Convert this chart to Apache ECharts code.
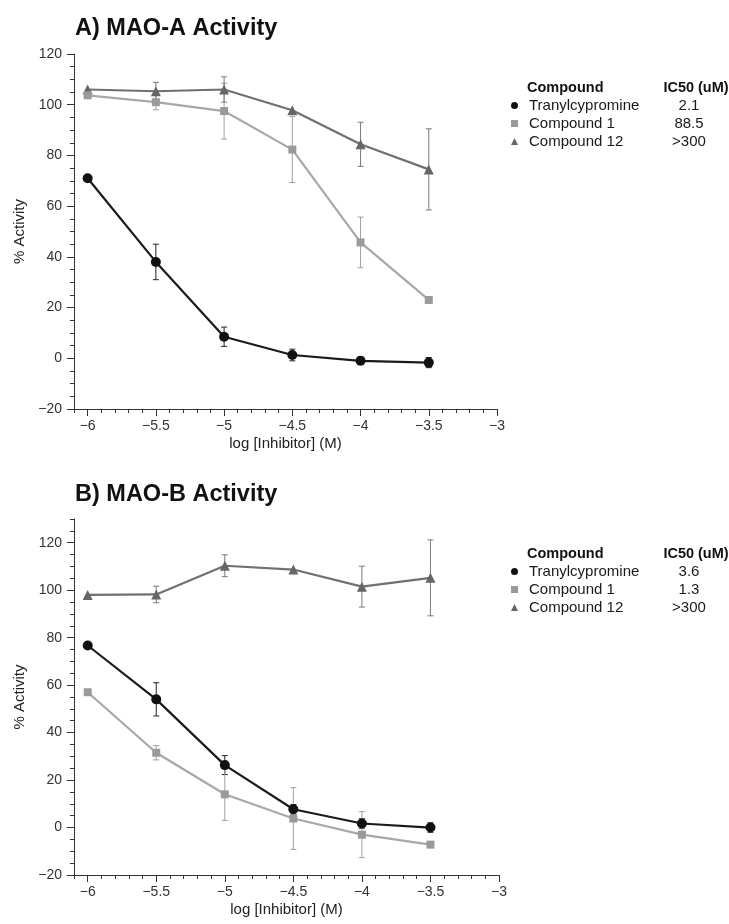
<!DOCTYPE html>
<html>
<head>
<meta charset="utf-8">
<script src="https://cdn.jsdelivr.net/npm/echarts@6/dist/echarts.min.js"></script>
<style>
  html, body { margin: 0; padding: 0; background: #fff; }
  #chart { width: 729px; height: 924px; }
</style>
</head>
<body>
<div id="chart"></div>
<script>
// ---------- data ----------
const logConc = [-6, -5.5, -5, -4.5, -4, -3.5];
const seriesNames = ['Tranylcypromine', 'Compound 1', 'Compound 12'];
const xTickLabels = [-6, -5.5, -5, -4.5, -4, -3.5, -3];
const yTickLabels = [-20, 0, 20, 40, 60, 80, 100, 120];

const maoA_tranyl     = [71, 38, 8.5, 1.3, -1, -1.7];
const maoA_tranyl_err = [0, 7, 3.8, 2.3, 1.5, 2];
const maoA_c1         = [103.7, 101, 97.5, 82.3, 45.7, 23];
const maoA_c1_err     = [0, 3, 11, 13, 10, 0];
const maoA_c12        = [106, 105.3, 106, 97.8, 84.4, 74.5];
const maoA_c12_err    = [0, 3.5, 5, 0, 8.7, 16];

const maoB_tranyl     = [76.7, 54, 26.3, 7.7, 1.7, 0];
const maoB_tranyl_err = [0, 7, 4, 2, 2, 2];
const maoB_c1         = [57, 31.5, 14, 3.8, -3, -7.2];
const maoB_c1_err     = [0, 3, 11, 13, 9.7, 0];
const maoB_c12        = [98, 98.2, 110.3, 108.7, 101.5, 105.2];
const maoB_c12_err    = [0, 3.5, 4.6, 0, 8.6, 16];

const ic50A = ['2.1', '88.5', '>300'];
const ic50B = ['3.6', '1.3', '>300'];

// ---------- styles ----------
const FONT = 'Liberation Sans, Arial, sans-serif';
const AXIS_COLOR = '#333';
const markerColors = ['#111111', '#9a9a9a', '#666666'];
const lineColors = ['#1a1a1a', '#a8a8a8', '#707070'];
const errColors = ['#222222', '#a0a0a0', '#7a7a7a'];
const symbols = ['circle', 'rect', 'triangle'];
const symbolSizes = [10, 8, 10];

const minus = v => String(v).replace('-', '\u2212');

function mainX(grid) {
  return {
    type: 'value', gridIndex: grid, min: -6.1, max: -3, position: 'bottom',
    axisLine: { show: true, onZero: false, lineStyle: { color: AXIS_COLOR, width: 1 } },
    axisTick: { show: true, length: 7, lineStyle: { color: AXIS_COLOR }, customValues: xTickLabels },
    axisLabel: { show: true, customValues: xTickLabels, formatter: minus, color: '#333', fontSize: 14, margin: 10, fontFamily: FONT },
    splitLine: { show: false },
    name: 'log [Inhibitor] (M)', nameLocation: 'middle', nameGap: 27,
    nameTextStyle: { color: '#222', fontSize: 15, fontFamily: FONT }
  };
}
function minorX(grid) {
  return {
    type: 'value', gridIndex: grid, min: -6.1, max: -3, interval: 0.1, position: 'bottom',
    axisLine: { show: false, onZero: false },
    axisTick: { show: true, length: 4, lineStyle: { color: AXIS_COLOR } },
    axisLabel: { show: false }, splitLine: { show: false }
  };
}
function mainY(grid, max) {
  return {
    type: 'value', gridIndex: grid, min: -20, max: max, position: 'left',
    axisLine: { show: true, onZero: false, lineStyle: { color: AXIS_COLOR, width: 1 } },
    axisTick: { show: true, length: 7, lineStyle: { color: AXIS_COLOR }, customValues: yTickLabels },
    axisLabel: { show: true, customValues: yTickLabels, formatter: minus, color: '#333', fontSize: 14, margin: 12, fontFamily: FONT },
    splitLine: { show: false },
    name: '% Activity', nameLocation: 'middle', nameGap: 45, nameRotate: 90,
    nameTextStyle: { color: '#222', fontSize: 15, fontFamily: FONT }
  };
}
function minorY(grid, max) {
  return {
    type: 'value', gridIndex: grid, min: -20, max: max, interval: 5, position: 'left',
    axisLine: { show: false, onZero: false },
    axisTick: { show: true, length: 4, lineStyle: { color: AXIS_COLOR } },
    axisLabel: { show: false }, splitLine: { show: false }
  };
}

function errSeries(idx, axisIdx, vals, errs) {
  const color = errColors[idx];
  return {
    type: 'custom', name: 'err-' + seriesNames[idx] + '-' + axisIdx,
    xAxisIndex: axisIdx, yAxisIndex: axisIdx, z: 1, silent: true,
    data: logConc.map((x, i) => [x, vals[i], errs[i]]),
    renderItem: (params, api) => {
      const x = api.value(0), y = api.value(1), e = api.value(2);
      if (!e) return null;
      const t = api.coord([x, y + e]), b = api.coord([x, y - e]);
      const w = 3;
      const st = { stroke: color, lineWidth: 1 };
      return {
        type: 'group', children: [
          { type: 'line', shape: { x1: t[0], y1: t[1], x2: b[0], y2: b[1] }, style: st },
          { type: 'line', shape: { x1: t[0] - w, y1: t[1], x2: t[0] + w, y2: t[1] }, style: st },
          { type: 'line', shape: { x1: b[0] - w, y1: b[1], x2: b[0] + w, y2: b[1] }, style: st }
        ]
      };
    }
  };
}
function lineSeries(idx, axisIdx, vals) {
  return {
    type: 'line', name: seriesNames[idx], xAxisIndex: axisIdx, yAxisIndex: axisIdx, z: 3,
    data: logConc.map((x, i) => [x, vals[i]]),
    symbol: symbols[idx], symbolSize: symbolSizes[idx], showSymbol: true,
    itemStyle: { color: markerColors[idx] },
    lineStyle: { color: lineColors[idx], width: 2.2 },
    animation: false
  };
}
function legendFor(top, ic50) {
  return {
    orient: 'vertical', left: 511, top: top, padding: 0, itemGap: 3, itemWidth: 7, itemHeight: 7,
    selectedMode: false,
    data: seriesNames.map((n, i) => ({ name: n, icon: symbols[i] })),
    formatter: name => '{n|' + name + '}{v|' + ic50[seriesNames.indexOf(name)] + '}',
    textStyle: {
      color: '#1a1a1a', fontSize: 15, fontFamily: FONT,
      rich: {
        n: { width: 130, padding: [0, 0, 0, 6], fontSize: 15, fontFamily: FONT, color: '#1a1a1a' },
        v: { width: 60, align: 'center', fontSize: 15, fontFamily: FONT, color: '#1a1a1a' }
      }
    }
  };
}
function headerText(x, y, text, align) {
  return { type: 'text', x: x, y: y, style: { text: text, font: 'bold 14.5px ' + FONT, fill: '#111', align: align, verticalAlign: 'middle' } };
}
function titleText(y, text) {
  return { type: 'text', x: 75, y: y, style: { text: text, font: 'bold 23.5px ' + FONT, fill: '#111', align: 'left', verticalAlign: 'middle' } };
}

const option = {
  animation: false,
  backgroundColor: '#fff',
  grid: [
    { left: 74, top: 54, width: 423, height: 355 },
    { left: 74, top: 519, width: 425, height: 356 }
  ],
  xAxis: [mainX(0), minorX(0), mainX(1), minorX(1)],
  yAxis: [mainY(0, 120), minorY(0, 120), mainY(1, 130), minorY(1, 130)],
  legend: [legendFor(98, ic50A), legendFor(564, ic50B)],
  graphic: [
    titleText(28.5, 'A) MAO-A Activity'),
    titleText(495, 'B) MAO-B Activity'),
    headerText(527, 88, 'Compound', 'left'),
    headerText(696, 88, 'IC50 (uM)', 'center'),
    headerText(527, 554, 'Compound', 'left'),
    headerText(696, 554, 'IC50 (uM)', 'center')
  ],
  series: [
    errSeries(0, 0, maoA_tranyl, maoA_tranyl_err),
    errSeries(1, 0, maoA_c1, maoA_c1_err),
    errSeries(2, 0, maoA_c12, maoA_c12_err),
    lineSeries(2, 0, maoA_c12),
    lineSeries(1, 0, maoA_c1),
    lineSeries(0, 0, maoA_tranyl),
    errSeries(0, 2, maoB_tranyl, maoB_tranyl_err),
    errSeries(1, 2, maoB_c1, maoB_c1_err),
    errSeries(2, 2, maoB_c12, maoB_c12_err),
    lineSeries(2, 2, maoB_c12),
    lineSeries(1, 2, maoB_c1),
    lineSeries(0, 2, maoB_tranyl)
  ]
};

const chart = echarts.init(document.getElementById('chart'), null, { renderer: 'canvas' });
chart.setOption(option);
</script>
</body>
</html>
